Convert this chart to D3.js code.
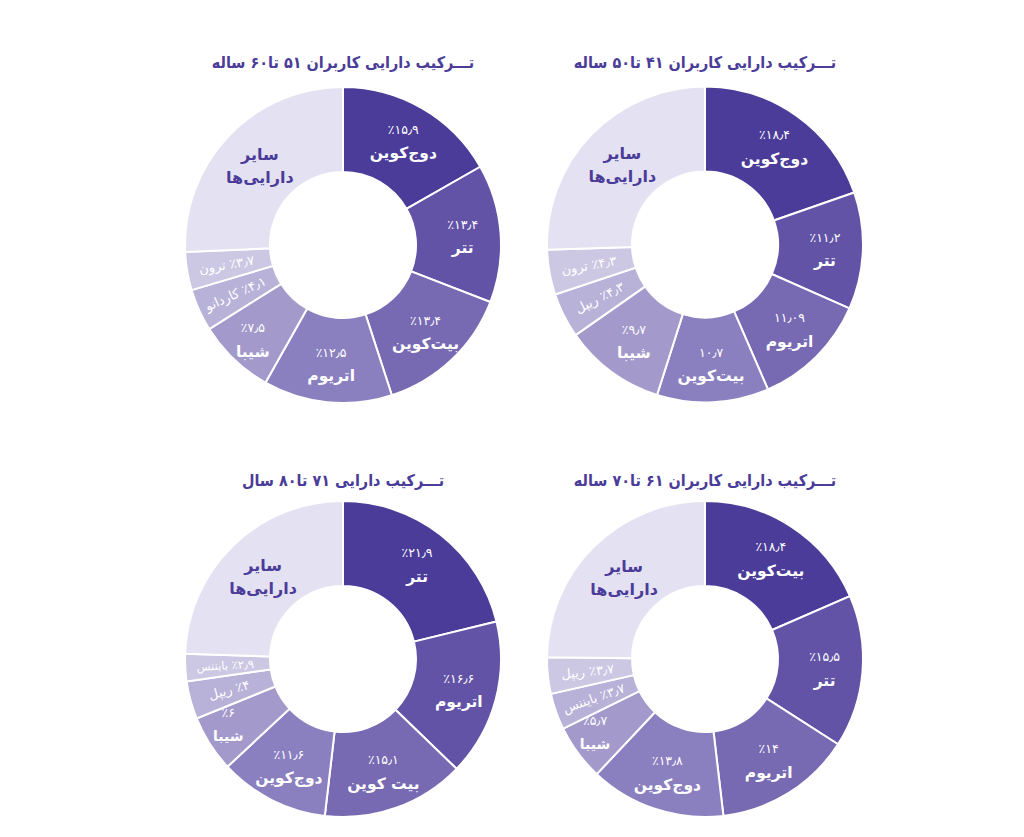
<!DOCTYPE html>
<html><head><meta charset="utf-8">
<script src="https://cdn.jsdelivr.net/npm/d3@7/dist/d3.min.js"></script>
<style>body{margin:0;background:#fff}svg{display:block}</style>
</head><body>
<svg id="chart" width="1024" height="837"></svg>
<script>
// ---- data ----
const titles = [
  "تـــرکیب دارایی کاربران ۴۱ تا۵۰ ساله",
  "تـــرکیب دارایی کاربران ۵۱ تا۶۰ ساله",
  "تـــرکیب دارایی کاربران ۶۱ تا۷۰ ساله",
  "تـــرکیب دارایی ۷۱ تا۸۰ سال"
];
const otherName = ["سایر", "دارایی‌ها"];

const names41 = ["دوج‌کوین","تتر","اتریوم","بیت‌کوین","شیبا","ریپل","ترون","سایر دارایی‌ها"];
const values41 = [18.4, 11.2, 11.09, 10.7, 9.7, 4.3, 4.3, 23.9];
const labels41 = ["٪۱۸٫۴","٪۱۱٫۲","۱۱٫۰۹","۱۰٫۷","٪۹٫۷","٪۴٫۳","٪۴٫۳",""];

const names51 = ["دوج‌کوین","تتر","بیت‌کوین","اتریوم","شیبا","کاردانو","ترون","سایر دارایی‌ها"];
const values51 = [15.9, 13.4, 13.4, 12.5, 7.5, 4.1, 3.7, 24.4];
const labels51 = ["٪۱۵٫۹","٪۱۳٫۴","٪۱۳٫۴","٪۱۲٫۵","٪۷٫۵","٪۴٫۱","٪۳٫۷",""];

const names61 = ["بیت‌کوین","تتر","اتریوم","دوج‌کوین","شیبا","بایننس","ریپل","سایر دارایی‌ها"];
const values61 = [18.4, 15.5, 14, 13.8, 5.7, 3.7, 3.7, 24.7];
const labels61 = ["٪۱۸٫۴","٪۱۵٫۵","٪۱۴","٪۱۳٫۸","٪۵٫۷","٪۳٫۷","٪۳٫۷",""];

const names71 = ["تتر","اتریوم","بیت کوین","دوج‌کوین","شیبا","ریپل","بایننس","سایر دارایی‌ها"];
const values71 = [21.9, 16.6, 15.1, 11.6, 6, 4, 2.9, 25.3];
const labels71 = ["٪۲۱٫۹","٪۱۶٫۶","٪۱۵٫۱","٪۱۱٫۶","٪۶","٪۴","٪۲٫۹",""];

const colors = ["#4a3c98","#6253a6","#776ab2","#8b80bf","#a39acb","#b8b1d8","#ccc7e3","#e4e1f2"];
const titleColor = "#4a3c98";

const charts = [
  {title: titles[0], names: names41, values: values41, labels: labels41, cx: 705, cy: 244.5, ty: 62},
  {title: titles[1], names: names51, values: values51, labels: labels51, cx: 343, cy: 245, ty: 62},
  {title: titles[2], names: names61, values: values61, labels: labels61, cx: 705, cy: 659, ty: 480},
  {title: titles[3], names: names71, values: values71, labels: labels71, cx: 343, cy: 659, ty: 480}
];

const rOut = 158, rIn = 73;
const font = "'DejaVu Sans', sans-serif";
const titleFont = "'DejaVu Sans Condensed', 'DejaVu Sans', sans-serif";
const svg = d3.select("#chart");
const pie = d3.pie().sort(null).value(d => d);
const arc = d3.arc().innerRadius(rIn).outerRadius(rOut);

function addText(g, x, y, str, size, fill, weight) {
  return g.append("text").attr("x", x).attr("y", y)
    .attr("text-anchor", "middle").attr("direction", "rtl").attr("dominant-baseline", "central")
    .attr("font-family", font).attr("font-size", size).attr("font-weight", weight || "normal")
    .attr("fill", fill).text(str);
}

charts.forEach(c => {
  const g = svg.append("g").attr("transform", `translate(${c.cx},${c.cy})`);
  svg.append("text")
    .attr("x", c.cx).attr("y", c.ty)
    .attr("text-anchor", "middle").attr("direction", "rtl").attr("dominant-baseline", "central")
    .attr("font-family", titleFont).attr("font-stretch", "condensed")
    .attr("font-weight", "bold").attr("font-size", 16)
    .attr("fill", titleColor).text(c.title);

  const arcs = pie(c.values);
  g.selectAll("path").data(arcs).join("path")
    .attr("d", arc).attr("fill", (d, i) => colors[i])
    .attr("stroke", "#fff").attr("stroke-width", 2);

  arcs.forEach((d, i) => {
    const span = d.endAngle - d.startAngle;
    const n = c.names.length - 1;
    const mid = (d.startAngle + d.endAngle) / 2;
    if (i === n) {
      const [x, y] = d3.pointRadial(mid, 115);
      addText(g, x, y - 11, otherName[0], 16, titleColor, "bold");
      addText(g, x, y + 12, otherName[1], 16, titleColor, "bold");
    } else if (span > 0.3) {
      const narrow = span < 0.45;
      const rl = narrow ? 132 : 120 + Math.max(0, Math.min(12, (0.65 - span) * 70));
      const [x, y] = d3.pointRadial(narrow ? mid + 0.05 : mid, rl);
      addText(g, x, y - 12, c.labels[i], 12.5, "#fff");
      addText(g, x, y + 12, c.names[i], narrow ? 14 : 15.5, "#fff", "bold");
    } else {
      const [x, y] = d3.pointRadial(mid, 118);
      addText(g, 0, 0, c.labels[i] + " " + c.names[i], span < 0.2 ? 11.5 : 13, "#fff")
        .attr("transform", `translate(${x},${y}) rotate(${mid * 180 / Math.PI - 270})`);
    }
  });
});
</script>
</body></html>
